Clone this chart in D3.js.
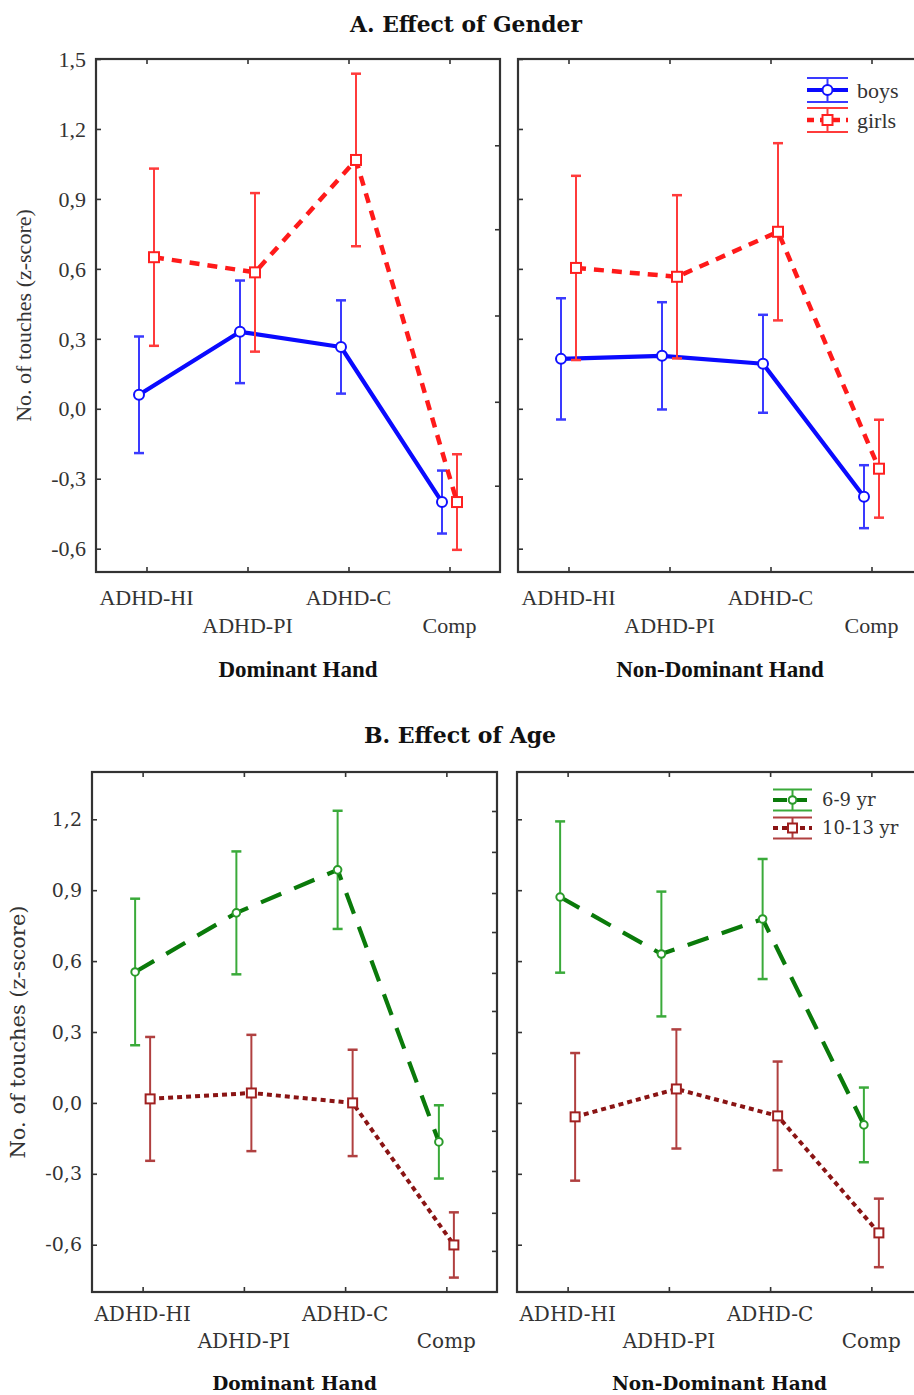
<!DOCTYPE html>
<html><head><meta charset="utf-8">
<script src="https://cdn.jsdelivr.net/npm/d3@7"></script>
<style>body{margin:0;background:#fff}svg{display:block}</style>
</head><body>
<svg id="chart" width="914" height="1395"></svg>
<script>
// ---- data ----
const categories = ["ADHD-HI","ADHD-PI","ADHD-C","Comp"];
const yTicksA = [-0.6,-0.3,0,0.3,0.6,0.9,1.2,1.5];
const yTicksB = [-0.6,-0.3,0,0.3,0.6,0.9,1.2];
const rightTicksA = [1.13,0.77,0.40,0.03,-0.33];
const rightTicksB = [1.235,1.062,0.888,0.723,0.55,0.389,0.211,0.042,-0.118,-0.288,-0.465,-0.626];

const boysDom    = [0.060, 0.330, 0.265, -0.400];
const boysDomErr = [0.250, 0.220, 0.200, 0.135];
const girlsDom    = [0.650, 0.585, 1.067, -0.400];
const girlsDomErr = [0.380, 0.340, 0.370, 0.205];
const boysNon    = [0.214, 0.227, 0.193, -0.377];
const boysNonErr = [0.260, 0.230, 0.210, 0.135];
const girlsNon    = [0.604, 0.566, 0.759, -0.257];
const girlsNonErr = [0.395, 0.350, 0.380, 0.210];

const youngDom    = [0.554, 0.804, 0.986, -0.165];
const youngDomErr = [0.310, 0.260, 0.250, 0.155];
const oldDom    = [0.017, 0.042, 0.000, -0.601];
const oldDomErr = [0.262, 0.246, 0.225, 0.138];
const youngNon    = [0.871, 0.630, 0.778, -0.093];
const youngNonErr = [0.320, 0.264, 0.254, 0.158];
const oldNon    = [-0.059, 0.059, -0.055, -0.550];
const oldNonErr = [0.270, 0.252, 0.230, 0.145];

const titleA = "A. Effect of Gender", titleB = "B. Effect of Age";
const yLabel = "No. of touches (z-score)";
const handLabels = ["Dominant Hand","Non-Dominant Hand"];
const legendA = ["boys","girls"], legendB = ["6-9 yr","10-13 yr"];

// ---- styles ----
const svg = d3.select("#chart");
const fmt = v => d3.format(".1f")(v).replace(".", ",").replace("−","-");

const styles = {
  boys:  {line:"#0a0aff", err:"#3a3aff", w:4.2, dash:null, marker:"circle", size:5, mstroke:"#1010ff"},
  girls: {line:"#ff1a1a", err:"#ff3b3b", w:4.5, dash:"10,8", marker:"square", size:10, mstroke:"#ff2020"},
  young: {line:"#0a7a0a", err:"#3aaa3a", w:4.2, dash:"22,14", marker:"circle", size:3.8, mstroke:"#2a9a2a"},
  old:   {line:"#8a1414", err:"#b04040", w:4, dash:"5,4", marker:"square", size:9, mstroke:"#a02020"}
};

function panel(opts){
  const {x0,x1,y0,y1,domain,ticks,rticks,series,font,showY,hand,labelRows,handY} = opts;
  const g = svg.append("g");
  const x = d3.scalePoint().domain(categories).range([x0,x1]).padding(0.5);
  const y = d3.scaleLinear().domain(domain).range([y1,y0]);
  g.append("rect").attr("x",x0).attr("y",y0).attr("width",x1-x0).attr("height",y1-y0)
    .attr("fill","none").attr("stroke","#333").attr("stroke-width",2.2);
  const tl = 5;
  const tickStyle = a=>{a.select(".domain").remove();a.selectAll("line").attr("stroke","#333").attr("stroke-width",1.6);};
  g.append("g").attr("transform",`translate(${x0},0)`)
    .call(d3.axisRight(y).tickValues(ticks).tickSize(tl).tickFormat("")).call(tickStyle);
  g.append("g").attr("transform",`translate(${x1},0)`)
    .call(d3.axisLeft(y).tickValues(rticks).tickSize(tl).tickFormat("")).call(tickStyle);
  g.append("g").attr("transform",`translate(0,${y0})`)
    .call(d3.axisBottom(x).tickSize(tl).tickFormat("")).call(tickStyle);
  g.append("g").attr("transform",`translate(0,${y1})`)
    .call(d3.axisTop(x).tickSize(tl).tickFormat("")).call(tickStyle);
  if (showY){
    g.selectAll("text.yt").data(ticks).join("text")
      .attr("x",x0-10).attr("y",d=>y(d)).attr("dy","0.35em")
      .attr("text-anchor","end").attr("font-family",font).attr("font-size",opts.yfs||22).attr("fill","#333")
      .text(fmt);
    g.append("text").attr("transform",`translate(${opts.ylx},${(y0+y1)/2}) rotate(-90)`)
      .attr("text-anchor","middle").attr("dy","0.35em").attr("font-family",font).attr("font-size",opts.ylfs||22).attr("fill","#333")
      .text(yLabel);
  }
  g.selectAll("text.xl").data(categories).join("text")
    .attr("x",d=>x(d)).attr("y",(d,i)=> i%2===0 ? y1+labelRows[0] : y1+labelRows[1])
    .attr("text-anchor","middle").attr("font-family",font).attr("font-size",opts.xfs||22).attr("fill","#333")
    .text(d=>d);
  g.append("text").attr("x",(x0+x1)/2).attr("y",y1+handY).attr("text-anchor","middle")
    .attr("font-family",opts.hfont).attr("font-weight","bold").attr("font-size",opts.hfs).attr("fill","#111").text(hand);

  series.forEach(s=>{
    const st = styles[s.key];
    const pts = categories.map((c,i)=>({x:x(c)+s.off, v:s.values[i], e:s.err[i]}));
    const eg = g.append("g").attr("stroke",st.err).attr("stroke-width",2).attr("fill","none");
    pts.forEach(p=>{
      eg.append("line").attr("x1",p.x).attr("x2",p.x).attr("y1",y(p.v+p.e)).attr("y2",y(p.v-p.e));
      eg.append("line").attr("x1",p.x-5).attr("x2",p.x+5).attr("y1",y(p.v+p.e)).attr("y2",y(p.v+p.e)).attr("stroke-width",2.5);
      eg.append("line").attr("x1",p.x-5).attr("x2",p.x+5).attr("y1",y(p.v-p.e)).attr("y2",y(p.v-p.e)).attr("stroke-width",2.5);
    });
    g.append("path").datum(pts)
      .attr("d",d3.line().x(p=>p.x).y(p=>y(p.v)))
      .attr("fill","none").attr("stroke",st.line).attr("stroke-width",st.w)
      .attr("stroke-dasharray",st.dash).attr("stroke-linejoin","round");
    pts.forEach(p=>drawMarker(g,st,p.x,y(p.v)));
  });
  return {x,y};
}

function drawMarker(g,st,cx,cy){
  if (st.marker==="circle"){
    g.append("circle").attr("cx",cx).attr("cy",cy).attr("r",st.size)
      .attr("fill","#fff").attr("stroke",st.mstroke).attr("stroke-width",2);
  } else {
    g.append("rect").attr("x",cx-st.size/2).attr("y",cy-st.size/2).attr("width",st.size).attr("height",st.size)
      .attr("fill","#fff").attr("stroke",st.mstroke).attr("stroke-width",2);
  }
}

function legend(items, x0, x1, ys, tx, font, fs, half){
  items.forEach((it,i)=>{
    const st = styles[it.key], cy = ys[i], cx=(x0+x1)/2;
    const g = svg.append("g");
    g.append("line").attr("x1",x0).attr("x2",x1).attr("y1",cy-half).attr("y2",cy-half).attr("stroke",st.err).attr("stroke-width",2.2);
    g.append("line").attr("x1",x0).attr("x2",x1).attr("y1",cy+half).attr("y2",cy+half).attr("stroke",st.err).attr("stroke-width",2.2);
    g.append("line").attr("x1",cx).attr("x2",cx).attr("y1",cy-half).attr("y2",cy+half).attr("stroke",st.err).attr("stroke-width",2);
    g.append("line").attr("x1",x0).attr("x2",x1).attr("y1",cy).attr("y2",cy).attr("stroke",st.line)
      .attr("stroke-width",st.w).attr("stroke-dasharray",it.dash||null);
    drawMarker(g,st,cx,cy);
    g.append("text").attr("x",tx).attr("y",cy).attr("dy","0.35em").attr("font-family",font)
      .attr("font-size",fs).attr("fill","#333").text(it.label);
  });
}

const serif = "'Liberation Serif','Times New Roman',serif";
const serifB = "'DejaVu Serif',serif";

// Titles
svg.append("text").attr("x",466).attr("y",32).attr("text-anchor","middle").attr("font-family",serifB)
  .attr("font-weight","bold").attr("font-size",21.8).attr("fill","#111").text(titleA);
svg.append("text").attr("x",460).attr("y",743).attr("text-anchor","middle").attr("font-family",serifB)
  .attr("font-weight","bold").attr("font-size",22).attr("fill","#111").text(titleB);

// A panels
panel({x0:96,x1:500,y0:59,y1:572,domain:[-0.7,1.5],ticks:yTicksA,rticks:rightTicksA,font:serif,showY:true,ylx:23,
  hand:handLabels[0],hfont:serif,hfs:23,labelRows:[33,61],handY:105,
  series:[{key:"boys",values:boysDom,err:boysDomErr,off:-7.5},{key:"girls",values:girlsDom,err:girlsDomErr,off:7.5}]});
panel({x0:518,x1:922,y0:59,y1:572,domain:[-0.7,1.5],ticks:yTicksA,rticks:[],font:serif,showY:false,
  hand:handLabels[1],hfont:serif,hfs:23,labelRows:[33,61],handY:105,
  series:[{key:"boys",values:boysNon,err:boysNonErr,off:-7.5},{key:"girls",values:girlsNon,err:girlsNonErr,off:7.5}]});

// B panels
panel({x0:92,x1:497,y0:772,y1:1292,domain:[-0.8,1.4],ticks:yTicksB,rticks:rightTicksB,font:serifB,showY:true,ylx:18,
  xfs:20,yfs:19,ylfs:21,hfont:serifB,hfs:18.5,
  hand:handLabels[0],labelRows:[29,56],handY:98,
  series:[{key:"young",values:youngDom,err:youngDomErr,off:-7.5},{key:"old",values:oldDom,err:oldDomErr,off:7.5}]});
panel({x0:517,x1:922,y0:772,y1:1292,domain:[-0.8,1.4],ticks:yTicksB,rticks:[],font:serifB,showY:false,
  xfs:20,hfont:serifB,hfs:18.5,
  hand:handLabels[1],labelRows:[29,56],handY:98,
  series:[{key:"young",values:youngNon,err:youngNonErr,off:-7.5},{key:"old",values:oldNon,err:oldNonErr,off:7.5}]});

legend([{key:"boys",label:legendA[0]},{key:"girls",label:legendA[1],dash:"7,6"}],807,848,[90,120],857,serif,22,12);
legend([{key:"young",label:legendB[0],dash:"14,6"},{key:"old",label:legendB[1],dash:"5,4"}],773,812,[800,828],822,serifB,18,10.5);
</script>
</body></html>
